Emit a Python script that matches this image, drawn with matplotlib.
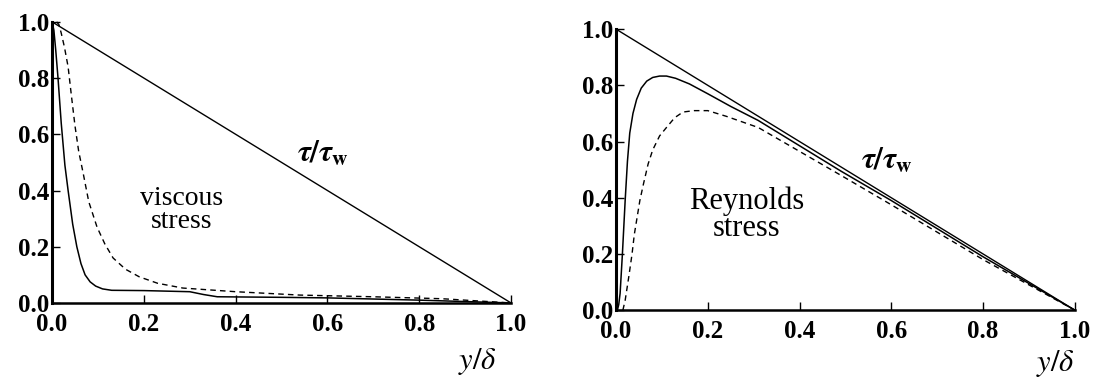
import numpy as np
import matplotlib
matplotlib.use("Agg")
import matplotlib.pyplot as plt

plt.rcParams['font.family'] = ['Liberation Serif', 'DejaVu Serif']
plt.rcParams['mathtext.fontset'] = 'stix'

# total shear stress tau/tau_w
total_x = [0.0, 1.0]
total_y = [1.0, 0.0]

# viscous stress (left panel), solid and dashed
visc_solid_x = [0.0, 0.004, 0.008, 0.013, 0.02, 0.028, 0.035, 0.045, 0.054, 0.063, 0.072, 0.083, 0.095,
                0.11, 0.13, 0.2, 0.3, 0.33, 0.36, 0.5, 0.6, 0.8, 1.0]
visc_solid_y = [1.0, 0.97, 0.9, 0.8, 0.64, 0.49, 0.4, 0.28, 0.2, 0.14, 0.1, 0.075, 0.06,
                0.05, 0.045, 0.044, 0.04, 0.03, 0.022, 0.02, 0.018, 0.01, 0.0]
visc_dash_x = [0.01, 0.015, 0.02, 0.027, 0.035, 0.042, 0.05, 0.058, 0.068, 0.08, 0.098, 0.115, 0.133,
               0.16, 0.19, 0.23, 0.285, 0.4, 0.54, 0.7, 0.85, 1.0]
visc_dash_y = [1.0, 0.99, 0.96, 0.91, 0.84, 0.74, 0.63, 0.54, 0.46, 0.36, 0.27, 0.21, 0.16,
               0.12, 0.093, 0.07, 0.053, 0.04, 0.028, 0.022, 0.015, 0.0]

# Reynolds stress (right panel), solid and dashed
rey_solid_x = [0.003, 0.006, 0.009, 0.014, 0.02, 0.025, 0.03, 0.037, 0.045, 0.055, 0.067, 0.08, 0.095,
               0.11, 0.13, 0.16, 0.2, 0.25, 0.31, 0.4, 0.49, 0.6, 0.8, 1.0]
rey_solid_y = [0.0, 0.02, 0.06, 0.2, 0.39, 0.53, 0.63, 0.7, 0.75, 0.79, 0.815, 0.828, 0.833,
               0.833, 0.825, 0.805, 0.77, 0.725, 0.675, 0.585, 0.495, 0.39, 0.19, 0.0]
rey_dash_x = [0.015, 0.02, 0.028, 0.035, 0.04, 0.046, 0.052, 0.06, 0.07, 0.08, 0.095, 0.11, 0.128,
              0.146, 0.17, 0.2, 0.24, 0.31, 0.4, 0.49, 0.6, 0.8, 1.0]
rey_dash_y = [0.0, 0.035, 0.12, 0.2, 0.27, 0.33, 0.39, 0.45, 0.52, 0.57, 0.62, 0.65, 0.685,
              0.705, 0.71, 0.71, 0.69, 0.65, 0.565, 0.48, 0.375, 0.18, 0.0]

ticks = [0.0, 0.2, 0.4, 0.6, 0.8, 1.0]
tick_labels = ['0.0', '0.2', '0.4', '0.6', '0.8', '1.0']

fig = plt.figure(figsize=(10.98, 3.83), dpi=100)
ax1 = fig.add_axes([0.0474, 0.209, 0.418, 0.734])
ax2 = fig.add_axes([0.561, 0.19, 0.418, 0.734])


def style(ax):
    ax.set_xlim(0, 1)
    ax.set_ylim(0, 1)
    for s in ['top', 'right']:
        ax.spines[s].set_visible(False)
    ax.spines['left'].set_linewidth(2.2)
    ax.spines['bottom'].set_linewidth(1.8)
    ax.set_xticks(ticks)
    ax.set_yticks(ticks)
    ax.set_xticklabels(tick_labels)
    ax.set_yticklabels(tick_labels)
    ax.tick_params(direction='in', length=6, width=1, labelsize=18)
    ax.tick_params(axis='x', pad=7)
    ax.tick_params(axis='y', pad=2)
    for lab in ax.get_xticklabels() + ax.get_yticklabels():
        lab.set_fontweight('bold')


for ax in (ax1, ax2):
    style(ax)
    ax.plot(total_x, total_y, color='black', lw=1.0, clip_on=False)
    ax.text(0.59, 0.53, r'$\boldsymbol{\tau/\tau}_\mathbf{w}$', fontsize=22, ha='center', va='center')

ax1.text(0.97, -0.21, r'$y/\delta$', fontsize=22, ha='right', va='center', clip_on=False)
ax2.text(1.0, -0.19, r'$y/\delta$', fontsize=22, ha='right', va='center', clip_on=False)

ax1.plot(visc_solid_x, visc_solid_y, color='black', lw=1.1, clip_on=False)
ax1.plot(visc_dash_x, visc_dash_y, color='black', lw=1.0, ls=(0, (4, 3)), clip_on=False)
ax1.text(0.283, 0.33, 'viscous\nstress', fontsize=20, ha='center', va='center', linespacing=0.9)

ax2.plot(rey_solid_x, rey_solid_y, color='black', lw=1.1, clip_on=False)
ax2.plot(rey_dash_x, rey_dash_y, color='black', lw=1.0, ls=(0, (4, 3)), clip_on=False)
ax2.text(0.285, 0.34, 'Reynolds\nstress', fontsize=22, ha='center', va='center', linespacing=0.9)

plt.savefig('out.png', dpi=100)
